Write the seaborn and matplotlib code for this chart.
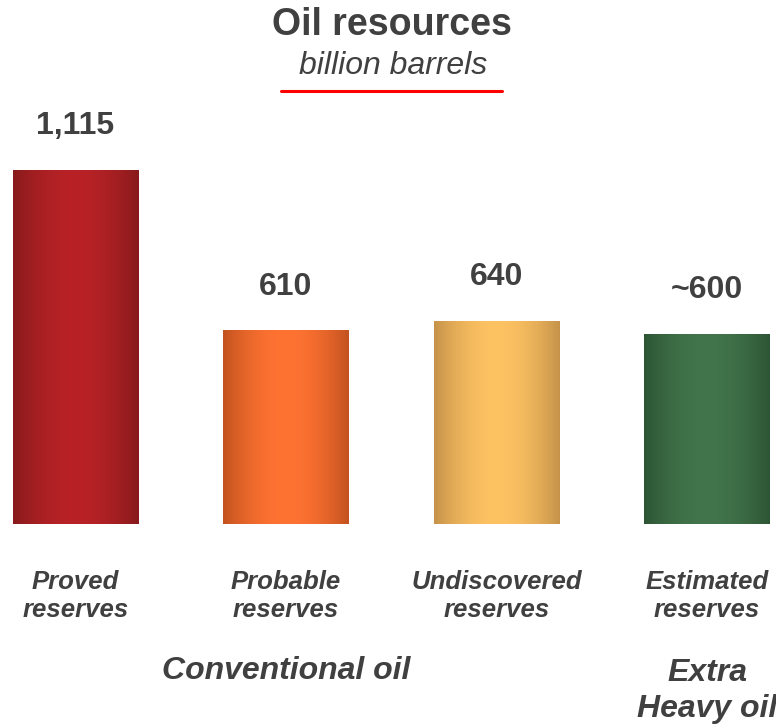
import numpy as np
import pandas as pd
import matplotlib
matplotlib.use("Agg")
import matplotlib.pyplot as plt
from matplotlib.colors import to_rgb
from matplotlib.transforms import blended_transform_factory
import seaborn as sns

# Data
categories = ["Proved\nreserves", "Probable\nreserves", "Undiscovered\nreserves", "Estimated\nreserves"]
values = [1115, 610, 640, 600]
value_labels = ["1,115", "610", "640", "~600"]
center_colors = ["#B82226", "#FF7332", "#FDC262", "#42754B"]
edge_colors = ["#871A1C", "#C2521F", "#C4924A", "#2D5534"]
groups = ["Conventional oil", "Extra\nHeavy oil"]
group_pos = [1, 3]

sns.set_theme(style="white")
plt.rcParams["font.family"] = ["Liberation Sans", "DejaVu Sans"]
TXT = "#404040"

W, H = 776, 724
fig = plt.figure(figsize=(W / 100, H / 100), dpi=100)
ax = fig.add_axes([0, (H - 524) / H, 1, 524 / H])

df = pd.DataFrame({"category": categories, "value": values})
sns.barplot(data=df, x="category", y="value", hue="category",
            palette=center_colors, legend=False, width=0.594,
            saturation=1, ax=ax)

# px -> data scaling: bar centres are 210.5 px apart, first at 75.5 px
ax.set_xlim(-75.5 / 210.5, (W - 75.5) / 210.5)
ax.set_ylim(0, 524 / 0.3175)
ax.axis("off")

# Cylindrical shading on each bar
t = np.linspace(0, 1, 256)
s = np.sin(np.pi * t) ** 0.9
for patch, c0, c1 in zip(ax.patches, edge_colors, center_colors):
    a, b = np.array(to_rgb(c0)), np.array(to_rgb(c1))
    grad = a[None, :] + (b - a)[None, :] * s[:, None]
    img = np.repeat(grad[None, :, :], 2, axis=0)
    x0, y0 = patch.get_x(), patch.get_y()
    w, h = patch.get_width(), patch.get_height()
    im = ax.imshow(img, extent=[x0, x0 + w, y0, y0 + h], aspect="auto",
                   interpolation="bilinear", zorder=patch.get_zorder() + 0.1)
    im.set_clip_path(patch)

# Value labels above bars
for i, (v, lab) in enumerate(zip(values, value_labels)):
    ax.annotate(lab, xy=(i, v), xytext=(0, 31.5), textcoords="offset points",
                ha="center", va="center", fontsize=23, fontweight="bold",
                color=TXT, annotation_clip=False)

tr = blended_transform_factory(ax.transData, fig.transFigure)

def fy(py):
    return 1 - py / H

# Category labels
for i, cat in enumerate(categories):
    ax.text(i, fy(596), cat, transform=tr, ha="center", va="center",
            fontsize=18.5, fontweight="bold", fontstyle="italic",
            color=TXT, linespacing=1.25)

# Group labels
ax.text(group_pos[0], fy(671), groups[0], transform=tr, ha="center", va="center",
        fontsize=23, fontweight="bold", fontstyle="italic", color=TXT)
ax.text(group_pos[1], fy(691), groups[1], transform=tr, ha="center", va="center",
        fontsize=23, fontweight="bold", fontstyle="italic", color=TXT,
        linespacing=1.22)

# Title block
fig.text(392 / W, fy(25), "Oil resources", ha="center", va="center",
         fontsize=27, fontweight="bold", color=TXT)
fig.text(393 / W, fy(66), "billion barrels", ha="center", va="center",
         fontsize=23, fontstyle="italic", color=TXT)
fig.add_artist(plt.Line2D([281 / W, 502 / W], [fy(91), fy(91)],
                          transform=fig.transFigure, color="#FF0000", lw=2.2))

fig.savefig("out.png", dpi=100, facecolor="white")
